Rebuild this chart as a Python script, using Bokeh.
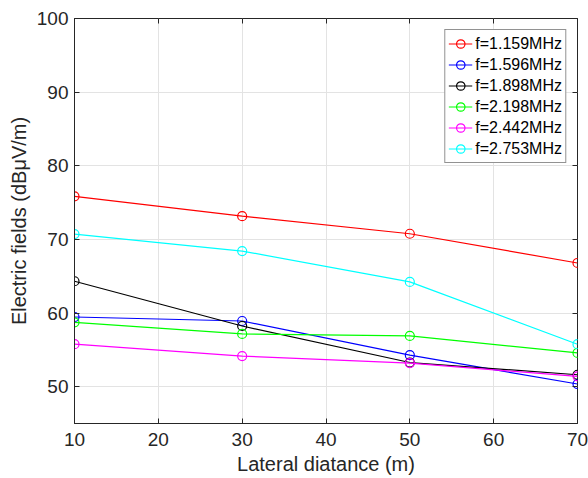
from bokeh.plotting import figure
from bokeh.models import Range1d, LinearAxis, FixedTicker, Legend, LegendItem
from bokeh.embed import file_html
from bokeh.resources import INLINE

distance = [10, 30, 50, 70]
labels = ["f=1.159MHz", "f=1.596MHz", "f=1.898MHz", "f=2.198MHz", "f=2.442MHz", "f=2.753MHz"]
colors = ["#ff0000", "#0000ff", "#000000", "#00ff00", "#ff00ff", "#00ffff"]
e_1159 = [75.85, 73.15, 70.77, 66.8]
e_1596 = [59.46, 58.92, 54.28, 50.36]
e_1898 = [64.32, 58.24, 53.28, 51.62]
e_2198 = [58.74, 57.16, 56.89, 54.59]
e_2442 = [55.77, 54.15, 53.2, 51.4]
e_2753 = [70.72, 68.42, 64.23, 55.77]
series = [e_1159, e_1596, e_1898, e_2198, e_2442, e_2753]
x_ticks = [10, 20, 30, 40, 50, 60, 70]
y_ticks = [50, 60, 70, 80, 90, 100]

FONT = "Liberation Sans"
AX = "#262626"

p = figure(width=588, height=478, output_backend="svg", toolbar_location=None,
           x_range=Range1d(10, 70), y_range=Range1d(45, 100),
           min_border_left=74, min_border_right=11, min_border_top=18, min_border_bottom=55)
p.background_fill_color = "white"
p.border_fill_color = "white"
p.outline_line_color = AX
p.outline_line_width = 1

for ax in [p.xaxis[0], p.yaxis[0]]:
    ax.axis_line_color = AX
    ax.major_tick_line_color = AX
    ax.major_tick_in = 5
    ax.major_tick_out = 0
    ax.minor_tick_line_color = None
    ax.major_label_text_font = FONT
    ax.major_label_text_font_size = "19px"
    ax.major_label_text_color = AX
    ax.axis_label_text_font = FONT
    ax.axis_label_text_font_size = "20px"
    ax.axis_label_text_font_style = "normal"
    ax.axis_label_text_color = AX

p.xaxis.ticker = FixedTicker(ticks=x_ticks)
p.yaxis.ticker = FixedTicker(ticks=y_ticks)
p.xaxis.axis_label = "Lateral diatance (m)"
p.yaxis.axis_label = "Electric fields (dBμV/m)"
p.xaxis.major_label_standoff = 9
p.yaxis.major_label_standoff = 6
p.xaxis.axis_label_standoff = 4
p.yaxis.axis_label_standoff = 4

p.xgrid.ticker = FixedTicker(ticks=x_ticks)
p.ygrid.ticker = FixedTicker(ticks=y_ticks)
p.grid.grid_line_color = "#e3e3e3"
p.grid.grid_line_width = 1

for loc, tick in [("above", x_ticks), ("right", y_ticks)]:
    a = LinearAxis(ticker=FixedTicker(ticks=tick), major_label_text_color=None,
                   major_label_text_font_size="1px",
                   axis_line_color=None, major_tick_line_color=AX, major_tick_in=5,
                   major_tick_out=0, minor_tick_line_color=None, major_label_standoff=0)
    p.add_layout(a, loc)

items = []
for lab, col, ys in zip(labels, colors, series):
    l = p.line(distance, ys, line_color=col, line_width=1.2)
    s = p.scatter(distance, ys, marker="circle", size=9, fill_color=None,
                  line_color=col, line_width=1.2)
    items.append(LegendItem(label=lab, renderers=[l, s]))

legend = Legend(items=items, location="top_right", margin=11,
                label_text_font=FONT, label_text_font_size="16px", label_text_color="#000000",
                border_line_color=AX, border_line_width=1, background_fill_alpha=1,
                glyph_width=24, glyph_height=21, label_height=21, spacing=0,
                padding=3, label_standoff=3)
p.add_layout(legend)

open("out.html", "w").write(file_html(p, INLINE))
